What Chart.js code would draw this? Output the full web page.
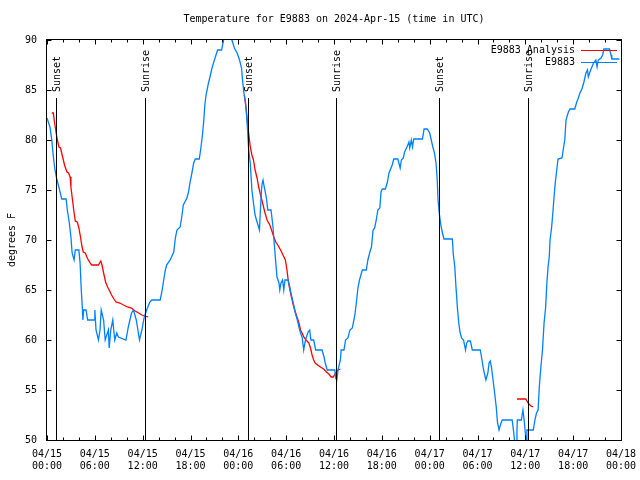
<!DOCTYPE html>
<html><head><meta charset="utf-8">
<script src="https://cdn.jsdelivr.net/npm/chart.js@4/dist/chart.umd.min.js"></script>
<style>html,body{margin:0;padding:0;background:#fff}canvas{display:block}</style>
</head><body>
<canvas id="c" width="640" height="480"></canvas>
<script>
const titleText = 'Temperature for E9883 on 2024-Apr-15 (time in UTC)';
const yAxisLabel = 'degrees F';
const seriesNames = ['E9883 Analysis', 'E9883'];
const tickDates = ['04/15','04/15','04/15','04/15','04/16','04/16','04/16','04/16','04/17','04/17','04/17','04/17','04/18'];
const tickTimes = ['00:00','06:00','12:00','18:00','00:00','06:00','12:00','18:00','00:00','06:00','12:00','18:00','00:00'];
const sunsetHours = [1.15, 25.17, 49.2];
const sunriseHours = [12.33, 36.3, 60.33];

// hours since 04/15 00:00 UTC
const blueHours = [0.0,0.37,0.6,0.8,1.0,1.2,1.55,1.85,2.4,2.55,2.8,3.0,3.15,3.4,3.55,4.0,4.15,4.3,4.45,4.5,4.6,4.9,5.1,5.9,6.0,6.15,6.45,6.65,6.8,7.1,7.3,7.7,7.8,8.0,8.25,8.5,8.75,8.95,9.9,10.2,10.6,10.85,11.2,11.6,11.9,12.2,12.5,12.9,13.15,14.2,14.4,14.6,14.8,15.0,15.45,15.9,16.1,16.3,16.7,16.9,17.1,17.55,17.75,17.95,18.2,18.4,18.6,19.1,19.3,19.5,19.65,19.8,19.95,20.2,20.5,20.7,21.0,21.4,21.9,22.15,22.5,23.0,23.2,23.5,23.85,24.15,24.4,24.5,24.7,24.9,25.1,25.3,25.5,25.7,25.9,26.1,26.35,26.65,26.75,26.9,27.0,27.1,27.25,27.5,27.7,28.1,28.35,28.5,28.7,28.85,29.1,29.2,29.35,29.55,29.7,29.85,30.25,30.45,30.6,30.8,31.0,31.15,31.4,31.6,31.8,32.0,32.2,32.35,32.5,32.75,32.95,33.1,33.45,33.7,34.5,34.75,34.9,35.15,36.1,36.2,36.35,36.5,36.8,36.9,37.25,37.45,37.75,38.0,38.3,38.5,38.65,38.8,39.0,39.2,39.55,40.05,40.25,40.5,40.7,40.9,41.1,41.3,41.5,41.75,41.9,42.05,42.45,42.7,42.9,43.1,43.3,43.5,44.0,44.3,44.45,44.7,44.85,45.1,45.4,45.5,45.7,45.85,46.0,47.1,47.3,47.7,48.0,48.2,48.4,48.6,48.8,48.95,49.05,49.2,49.4,49.6,49.8,50.85,50.95,51.15,51.3,51.5,51.65,51.8,52.0,52.25,52.5,52.65,52.8,53.1,53.35,54.35,54.5,54.7,54.85,55.05,55.3,55.45,55.6,55.75,55.95,56.15,56.35,56.5,56.7,56.95,57.1,58.35,58.55,58.7,58.85,58.95,59.0,59.5,59.7,59.85,60.0,60.1,60.2,61.0,61.2,61.4,61.6,61.75,61.95,62.15,62.35,62.55,62.7,62.85,63.0,63.1,63.3,63.45,63.6,63.75,63.9,64.1,64.6,64.8,64.95,65.1,65.4,65.6,66.2,66.45,66.6,66.85,67.1,67.35,67.6,67.8,67.9,68.1,68.3,68.55,68.85,69.0,69.15,69.5,69.7,69.85,70.55,70.75,70.85,71.8];
const blueTemps = [82.2,81.3,80,78.3,77,76.2,75.1,74.1,74.1,73,71.7,70.3,68.7,68,69,69,67.7,65,63,62,63,63,62,62,63,61,60,61,63,62,60,61,59.2,61,62,60,60.7,60.3,60,61.3,62.7,63,62,60,61,62.3,63,63.8,64,64,64.8,65.8,66.8,67.5,68,68.8,70.2,71,71.3,72.3,73.5,74.2,74.8,75.8,76.8,77.7,78.1,78.1,79.2,80.5,81.8,83.5,84.5,85.5,86.5,87.2,88,89,89,90,90.8,90.8,90,89.2,88.7,88,87.2,86.2,84.7,83.8,81.7,79,77.7,75,73.7,72.5,71.8,71,72.7,75,75.7,76,75.3,74.3,73,73,71.3,69.7,67.7,66.3,65.7,65,65.7,66,65,66,66,65.3,64.7,64,63.3,62.7,62,61.3,60.7,60.3,59,59.7,60.2,60.8,61,60,60,59,59,58.3,57.7,57,57,56.2,56,57,58,59,59,60,60.2,61,61.2,62,62.7,63.7,65.2,66,67,67,68,68.8,69.3,71,71.2,72,73,73.2,74.8,75.1,75.1,75.8,76.7,77.1,77.5,78.1,78.1,77.2,78,78.2,78.8,79.2,79.8,79.2,80,79.3,80.1,80.1,81.1,81.1,80.7,80,79.3,78.7,77.7,76,74,72.7,71.5,70.7,70.1,70.1,68.7,67.3,65.3,63,61.7,60.8,60.2,60,59,59.7,59.9,59.9,59,59,58.3,57.3,56.7,56,56.7,57.7,57.9,57.3,56,54.7,53.3,51.8,51,51.7,52,52,50.7,49.5,49.5,51,52,52,53,52,50.7,49.5,51,51,52,52.7,53,55.3,57.3,59,61.7,63.3,65.7,67.3,68.3,70,71.3,72.7,74.3,75.7,76.7,78.1,78.2,79.3,80,82,82.8,83.1,83.1,83.8,84.1,84.7,85.1,85.8,86.7,87,86.3,86.8,87.2,87.7,88,87.3,88,88.2,88.5,89.1,89.1,88.5,88.1,88.1];

const redHours = [0.6,0.8,0.9,1.15,1.3,1.5,1.7,1.9,2.05,2.2,2.5,2.7,2.9,3.0,3.2,3.4,3.55,3.8,4.0,4.2,4.4,4.55,4.8,5.05,5.4,5.6,6.45,6.75,6.9,7.1,7.35,7.6,7.8,8.1,8.4,8.65,9.15,9.6,10.1,10.6,11.05,11.5,11.9,12.3,12.7,
  18,
  24.75,25.0,25.15,25.35,25.5,25.7,25.9,26.1,26.35,26.55,26.85,27.1,27.35,27.6,27.95,28.25,28.45,28.7,28.95,29.3,29.6,29.9,30.1,30.3,30.55,30.75,30.95,31.15,31.4,31.6,31.8,32.0,32.2,32.5,32.85,33.05,33.25,33.45,33.65,33.95,34.3,34.7,35.05,35.35,35.65,35.9,36.2,36.5,36.8,
  48,
  58.95,60.05,60.35,60.7,61.0];
const redTemps = [82.7,82.7,82,80.7,80,79.3,79.2,78.5,78,77.5,76.8,76.7,76.3,75.3,74,72.7,71.9,71.8,71.2,70.3,69.3,68.8,68.7,68.2,67.7,67.5,67.5,67.9,67.5,66.7,65.8,65.3,65,64.5,64.1,63.8,63.7,63.5,63.3,63.2,62.9,62.7,62.5,62.4,62.3,
  null,
  84.5,83,81.7,80.3,79.3,78.5,78,77,76.2,75.3,74.3,73.5,72.7,72,71.5,70.8,70.3,69.8,69.5,69,68.5,68,67,65.7,64.7,64,63.3,62.8,62.2,61.7,61,60.7,60.3,60,59.7,59.2,58.5,58,57.7,57.5,57.3,57.1,56.8,56.6,56.3,56.3,56.7,57,57.1,
  null,
  54.1,54.1,53.7,53.4,53.3];

const BLUE = '#0080ff';
const RED = '#ff0000';
const FAMILY = "'DejaVu Sans Mono', 'Liberation Mono', monospace";
const FONT = "10px " + FAMILY;

const extras = {
  id: 'extras',
  afterDatasetsDraw(chart) {
    const {ctx, chartArea: a, scales: {x, y}} = chart;
    ctx.save();
    ctx.strokeStyle = '#000';
    ctx.fillStyle = '#000';
    ctx.lineWidth = 1;
    ctx.font = FONT;
    const sun = (h, label) => {
      const px = Math.round(x.getPixelForValue(h)) + 0.5;
      ctx.beginPath(); ctx.moveTo(px, a.top + 58); ctx.lineTo(px, a.bottom); ctx.stroke();
      ctx.save();
      ctx.translate(px + 1, a.top + 52);
      ctx.rotate(-Math.PI / 2);
      ctx.textAlign = 'left'; ctx.textBaseline = 'middle';
      ctx.fillText(label, 0, 0);
      ctx.restore();
    };
    sunsetHours.forEach(h => sun(h, 'Sunset'));
    sunriseHours.forEach(h => sun(h, 'Sunrise'));
    ctx.restore();
  },
  afterDraw(chart) {
    const {ctx, chartArea: a, scales: {x, y}} = chart;
    ctx.save();
    ctx.strokeStyle = '#000';
    ctx.fillStyle = '#000';
    ctx.lineWidth = 1;
    const L = Math.round(a.left) - 0.5, R = Math.round(a.right) + 0.5;
    const T = Math.round(a.top) - 0.5, B = Math.round(a.bottom) + 0.5;
    ctx.strokeRect(L, T, R - L, B - T);
    ctx.beginPath();
    for (let h = 0; h <= 72; h += 2) {
      const px = Math.round(x.getPixelForValue(h)) + 0.5;
      const len = h % 6 === 0 ? 5 : 3;
      ctx.moveTo(px, B); ctx.lineTo(px, B - len);
      ctx.moveTo(px, T); ctx.lineTo(px, T + len);
    }
    for (let v = 50; v <= 90; v += 5) {
      const py = Math.round(y.getPixelForValue(v)) + 0.5;
      ctx.moveTo(L, py); ctx.lineTo(L + 5, py);
      ctx.moveTo(R, py); ctx.lineTo(R - 5, py);
    }
    ctx.stroke();
    ctx.font = FONT;
    ctx.textAlign = 'center'; ctx.textBaseline = 'middle';
    ctx.fillText(titleText, (a.left + a.right) / 2, 19);
    ctx.save();
    ctx.translate(12, (a.top + a.bottom) / 2);
    ctx.rotate(-Math.PI / 2);
    ctx.fillText(yAxisLabel, 0, 0);
    ctx.restore();
    const colors = [RED, BLUE];
    seriesNames.forEach((name, i) => {
      const ly = a.top + 10 + i * 12;
      ctx.textAlign = 'right'; ctx.textBaseline = 'middle';
      ctx.fillStyle = '#000';
      ctx.fillText(name, a.right - 46, ly);
      ctx.strokeStyle = colors[i];
      ctx.beginPath();
      ctx.moveTo(a.right - 40, Math.round(ly) + 0.5);
      ctx.lineTo(a.right - 4, Math.round(ly) + 0.5);
      ctx.stroke();
    });
    ctx.restore();
  }
};

new Chart(document.getElementById('c'), {
  type: 'line',
  data: {
    datasets: [
      {
        label: seriesNames[1],
        data: blueHours.map((h, i) => ({x: h, y: blueTemps[i]})),
        borderColor: BLUE, borderWidth: 1.3, pointRadius: 0, tension: 0, fill: false
      },
      {
        label: seriesNames[0],
        data: redHours.map((h, i) => ({x: h, y: redTemps[i]})),
        borderColor: RED, borderWidth: 1.3, pointRadius: 0, tension: 0, fill: false, spanGaps: false
      }
    ]
  },
  options: {
    responsive: false,
    animation: false,
    devicePixelRatio: 1,
    layout: {padding: {top: 40, right: 19, left: 0, bottom: 0}},
    plugins: {legend: {display: false}, tooltip: {enabled: false}, title: {display: false}},
    scales: {
      x: {
        type: 'linear', min: 0, max: 72,
        afterFit(s) { s.height = 40; s.paddingLeft = 0; s.paddingRight = 0; },
        grid: {display: false, drawTicks: false},
        border: {display: false},
        ticks: {
          stepSize: 6, autoSkip: false, maxRotation: 0, minRotation: 0, padding: 8, color: '#000',
          font: {family: FAMILY, size: 10, lineHeight: 1.2},
          callback(v) { const i = Math.round(v / 6); return [tickDates[i], tickTimes[i]]; }
        }
      },
      y: {
        type: 'linear', min: 50, max: 90,
        afterFit(s) { s.width = 47; s.paddingTop = 0; s.paddingBottom = 0; },
        grid: {display: false, drawTicks: false},
        border: {display: false},
        ticks: {stepSize: 5, padding: 10, color: '#000', font: {family: FAMILY, size: 10}}
      }
    }
  },
  plugins: [extras]
});
</script>
</body></html>
